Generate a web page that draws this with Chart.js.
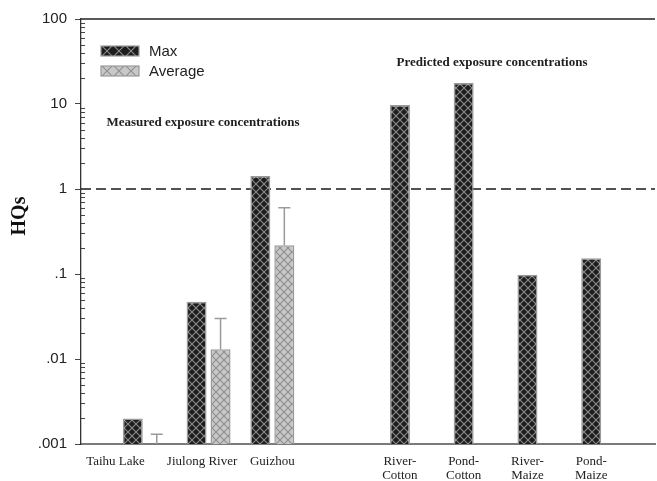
<!DOCTYPE html>
<html>
<head>
<meta charset="utf-8">
<script src="https://cdn.jsdelivr.net/npm/chart.js@4.4.1/dist/chart.umd.min.js"></script>
<style>
  html, body { margin: 0; padding: 0; background: #fff; }
  #wrap { width: 657px; height: 481px; }
</style>
</head>
<body>
<div id="wrap"><canvas id="c"></canvas></div>
<script>
// Hazard quotients per site / scenario (blank slots keep the two groups apart;
// trailing em spaces nudge the first two site names to the left of their bars)
const categories = ['', 'Taihu Lake\u2003\u2003\u2003\u2003\u2002', 'Jiulong River\u2003', 'Guizhou', '',
  ['River-', 'Cotton'], ['Pond-', 'Cotton'], ['River-', 'Maize'], ['Pond-', 'Maize'], ''];
const maxHQ     = [null, 0.002, 0.047, 1.42, null, 9.7, 17.7, 0.098, 0.153, null];
const avgHQ     = [null, 0.001, 0.013, 0.218, null, null, null, null, null, null];
const avgUpper  = [null, 0.0013, 0.03, 0.6, null, null, null, null, null, null];
const yTickValues = [0.001, 0.01, 0.1, 1, 10, 100];
const yTickLabels = ['.001', '.01', '.1', '1', '10', '100'];
const threshold = 1;
const yTitle = 'HQs';
const measuredNote = 'Measured exposure concentrations';
const predictedNote = 'Predicted exposure concentrations';

// Cross-hatch fill: diamonds of background colour separated by thin lines
function hatch(bg, line, size) {
  const c = document.createElement('canvas');
  c.width = size; c.height = size;
  const g = c.getContext('2d');
  g.fillStyle = bg;
  g.fillRect(0, 0, size, size);
  g.strokeStyle = line;
  g.lineWidth = 1.1;
  g.beginPath();
  g.moveTo(0, 0); g.lineTo(size, size);
  g.moveTo(size, 0); g.lineTo(0, size);
  g.stroke();
  return g.createPattern(c, 'repeat');
}

const serif = "'Liberation Serif', 'Times New Roman', serif";
const sans = "'Liberation Sans', Arial, sans-serif";

// legend swatches use a coarser version of each bar fill
const swatches = [hatch('#1d1d1d', '#8c8c8c', 12), hatch('#c8c8c8', '#8e8e8e', 12)];

const decorations = {
  id: 'decorations',
  beforeDatasetsDraw(chart) {
    const { ctx, chartArea: a, scales: { y } } = chart;
    const yy = y.getPixelForValue(threshold);
    ctx.save();
    ctx.strokeStyle = '#1a1a1a';
    ctx.lineWidth = 1.3;
    ctx.setLineDash([10, 5]);
    ctx.beginPath();
    ctx.moveTo(a.left, yy);
    ctx.lineTo(a.right, yy);
    ctx.stroke();
    ctx.restore();
  },
  afterDatasetsDraw(chart) {
    const { ctx, scales: { y } } = chart;
    // error whiskers on the Average bars
    const meta = chart.getDatasetMeta(1);
    ctx.save();
    ctx.strokeStyle = '#9a9a9a';
    ctx.lineWidth = 1.5;
    avgUpper.forEach((up, i) => {
      if (up == null) return;
      const bar = meta.data[i];
      const yTop = y.getPixelForValue(up);
      ctx.beginPath();
      ctx.moveTo(bar.x, bar.y);
      ctx.lineTo(bar.x, yTop);
      ctx.moveTo(bar.x - 6, yTop);
      ctx.lineTo(bar.x + 6, yTop);
      ctx.stroke();
    });
    ctx.restore();

    // group captions
    ctx.save();
    ctx.fillStyle = '#1e1e1e';
    ctx.font = "bold 13px " + serif;
    ctx.textAlign = 'center';
    ctx.textBaseline = 'middle';
    ctx.fillText(measuredNote, 203, 123);
    ctx.fillText(predictedNote, 492, 63);
    ctx.restore();
  },
  afterDraw(chart) {
    const { ctx, chartArea: a, scales: { y } } = chart;
    ctx.save();
    // top frame line
    ctx.strokeStyle = '#222';
    ctx.lineWidth = 1.4;
    ctx.beginPath();
    ctx.moveTo(a.left, a.top);
    ctx.lineTo(a.right, a.top);
    ctx.stroke();
    // minor log ticks, inside the axis
    ctx.strokeStyle = '#444';
    ctx.lineWidth = 1;
    for (let d = -3; d < 2; d++) {
      for (let k = 2; k <= 9; k++) {
        const py = Math.round(y.getPixelForValue(k * Math.pow(10, d))) + 0.5;
        ctx.beginPath();
        ctx.moveTo(a.left, py);
        ctx.lineTo(a.left + 4, py);
        ctx.stroke();
      }
    }
    // y-axis title
    ctx.save();
    ctx.translate(20, 216);
    ctx.rotate(-Math.PI / 2);
    ctx.fillStyle = '#111';
    ctx.font = "bold 20px " + serif;
    ctx.textAlign = 'center';
    ctx.textBaseline = 'middle';
    ctx.fillText(yTitle, 0, 0);
    ctx.restore();
    // legend
    ctx.font = "15px " + sans;
    ctx.textBaseline = 'middle';
    ctx.textAlign = 'left';
    chart.data.datasets.forEach((ds, i) => {
      const top = 46 + i * 20;
      ctx.save();
      ctx.translate(101, top - 1);
      ctx.fillStyle = swatches[i];
      ctx.fillRect(0, 1, 38, 10);
      ctx.restore();
      ctx.strokeStyle = ds.borderColor;
      ctx.lineWidth = 1.2;
      ctx.strokeRect(101, top, 38, 10);
      ctx.fillStyle = '#222';
      ctx.fillText(ds.label, 149, top + 5.5);
    });
    ctx.restore();
  }
};

const ctx = document.getElementById('c').getContext('2d');
new Chart(ctx, {
  type: 'bar',
  data: {
    labels: categories,
    datasets: [
      {
        label: 'Max',
        data: maxHQ,
        backgroundColor: hatch('#1d1d1d', '#8c8c8c', 8),
        borderColor: '#9a9a9a',
        borderWidth: 1.5,
        skipNull: true
      },
      {
        label: 'Average',
        data: avgHQ,
        backgroundColor: hatch('#c8c8c8', '#8e8e8e', 8),
        borderColor: '#9a9a9a',
        borderWidth: 1.5,
        skipNull: true
      }
    ]
  },
  options: {
    responsive: true,
    maintainAspectRatio: false,
    animation: false,
    categoryPercentage: 0.7526,
    barPercentage: 0.85,
    maxBarThickness: 20,
    layout: { padding: { top: 19, right: 2, left: 0, bottom: 0 } },
    plugins: {
      legend: { display: false },
      tooltip: { enabled: false }
    },
    scales: {
      x: {
        offset: false,
        grid: { display: false, drawTicks: true, tickLength: 11 },
        border: { display: true, color: '#7a7a7a', width: 2 },
        ticks: {
          autoSkip: false,
          maxRotation: 0,
          padding: 0,
          color: '#222',
          font: { family: serif, size: 13, lineHeight: 1.05 }
        },
        afterFit(scale) { scale.height = 37; }
      },
      y: {
        type: 'logarithmic',
        min: 0.001,
        max: 100,
        afterBuildTicks(scale) {
          scale.ticks = yTickValues.map(v => ({ value: v, major: true }));
        },
        afterFit(scale) { scale.width = 81; },
        grid: { display: true, drawOnChartArea: false, drawTicks: true, tickLength: 6, color: '#444', lineWidth: 1 },
        border: { display: true, color: '#333', width: 1.3 },
        ticks: {
          autoSkip: false,
          padding: 8,
          color: '#222',
          font: { family: sans, size: 15 },
          callback(v) {
            const i = yTickValues.findIndex(t => Math.abs(Math.log10(t) - Math.log10(v)) < 1e-6);
            return i >= 0 ? yTickLabels[i] : '';
          }
        }
      }
    }
  },
  plugins: [decorations]
});
</script>
</body>
</html>
